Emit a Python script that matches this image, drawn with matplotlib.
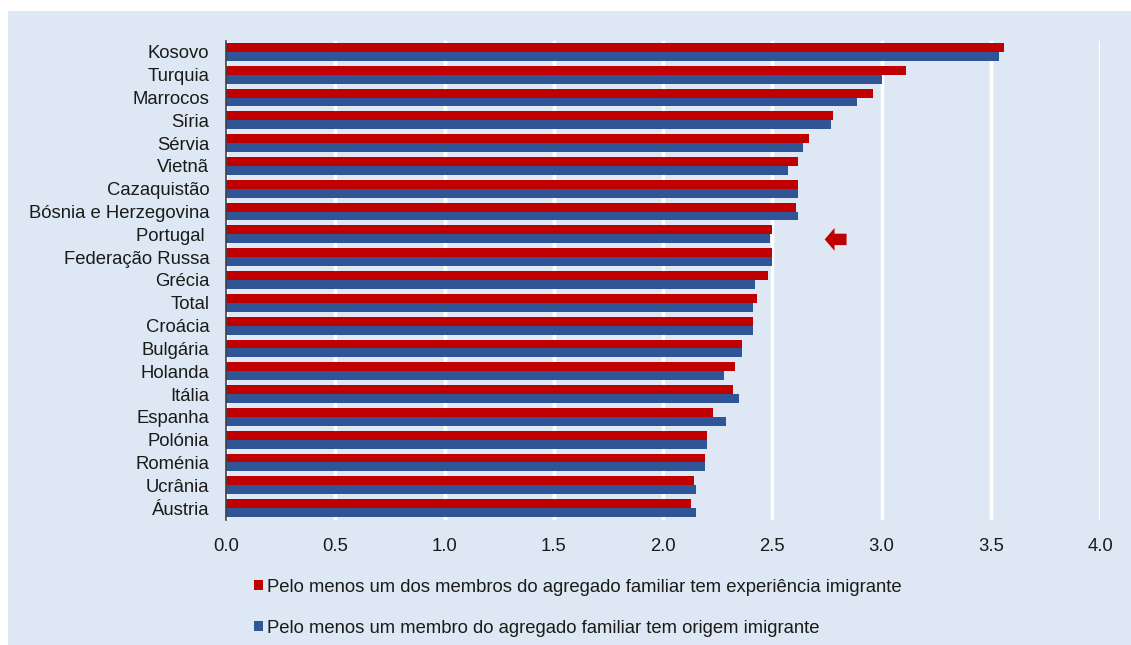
import matplotlib
matplotlib.use("Agg")
import matplotlib.pyplot as plt
import numpy as np
from matplotlib.patches import Rectangle, FancyArrow

countries = ["Kosovo", "Turquia", "Marrocos", "Síria", "Sérvia", "Vietnã", "Cazaquistão",
             "Bósnia e Herzegovina", "Portugal ", "Federação Russa", "Grécia", "Total",
             "Croácia", "Bulgária", "Holanda", "Itália", "Espanha", "Polónia", "Roménia",
             "Ucrânia", "Áustria"]
experiencia = [3.56, 3.11, 2.96, 2.78, 2.67, 2.62, 2.62, 2.61, 2.50, 2.50, 2.48, 2.43,
               2.41, 2.36, 2.33, 2.32, 2.23, 2.20, 2.19, 2.14, 2.13]
origem = [3.54, 3.00, 2.89, 2.77, 2.64, 2.57, 2.62, 2.62, 2.49, 2.50, 2.42, 2.41,
          2.41, 2.36, 2.28, 2.35, 2.29, 2.20, 2.19, 2.15, 2.15]
series_labels = ["Pelo menos um dos membros do agregado familiar tem experiência imigrante",
                 "Pelo menos um membro do agregado familiar tem origem imigrante"]
xticks = [0.0, 0.5, 1.0, 1.5, 2.0, 2.5, 3.0, 3.5, 4.0]

RED = "#c00000"
BLUE = "#2f5597"
BG = "#dde8f4"
FS = 13.3

plt.rcParams["font.family"] = ["Liberation Sans", "DejaVu Sans"]

fig = plt.figure(figsize=(11.31, 6.45), dpi=100)
fig.patch.set_facecolor("white")
# light blue panel behind everything
fig.add_artist(Rectangle((8 / 1131, 0), 1 - 8 / 1131, 1 - 11 / 645,
                         transform=fig.transFigure, facecolor=BG, edgecolor="none", zorder=-5))

ax = fig.add_axes([226 / 1131, 1 - 519.5 / 645, (1100 - 226) / 1131, (519.5 - 40.5) / 645])
ax.set_facecolor("none")
ax.set_zorder(2)

y = np.arange(len(countries))
h = 0.39
ax.barh(y - h / 2, experiencia, height=h, color=RED, label=series_labels[0], zorder=3)
ax.barh(y + h / 2, origem, height=h, color=BLUE, label=series_labels[1], zorder=3)

ax.set_ylim(len(countries) - 0.5, -0.5)
ax.set_xlim(0, 4.0)
ax.set_yticks(y)
ax.set_yticklabels(countries, fontsize=FS, color="#1a1a1a")
ax.set_xticks(xticks)
ax.set_xticklabels([f"{t:.1f}" for t in xticks], fontsize=FS, color="#1a1a1a")
ax.tick_params(axis="y", length=0, pad=12)
ax.tick_params(axis="x", length=0, pad=13)
ax.xaxis.grid(True, color="white", lw=2.5, zorder=1)
ax.set_axisbelow(True)
for s in ["top", "right", "bottom"]:
    ax.spines[s].set_visible(False)
ax.spines["left"].set_color("#404040")
ax.spines["left"].set_linewidth(1.2)
ax.spines["left"].set_zorder(4)

# arrow pointing at Portugal
ip = countries.index("Portugal ")
ax.add_patch(FancyArrow(experiencia[ip] + 0.34, ip + 0.22, -0.1, 0, width=0.5,
                        head_width=1.0, head_length=0.045, length_includes_head=True,
                        color=RED, lw=0, zorder=3))

leg = fig.legend(loc="upper left", bbox_to_anchor=(237 / 1131, 1 - 562 / 645),
                 frameon=False, fontsize=FS, handlelength=0.5, handleheight=0.5,
                 handletextpad=0.2, labelspacing=1.3, labelcolor="#1a1a1a")

fig.savefig("out.png", dpi=100, facecolor=fig.get_facecolor())
